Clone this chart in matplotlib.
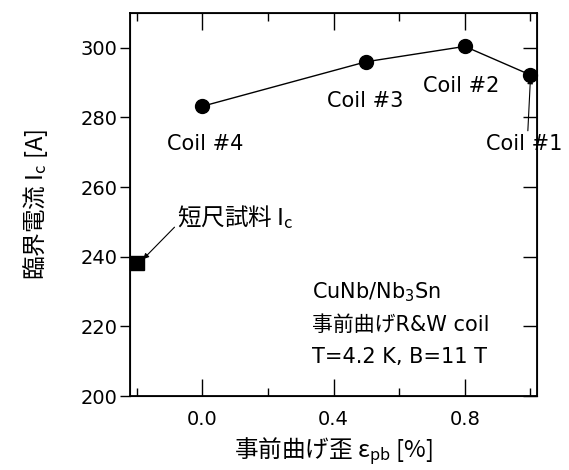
import matplotlib
matplotlib.use('Agg')
import matplotlib.pyplot as plt
from matplotlib.ticker import MultipleLocator

plt.rcParams['font.family'] = ['DejaVu Sans', 'Noto Sans CJK JP']
JP = 'Noto Sans CJK JP'

# coil data
coil_strain = [0.0, 0.5, 0.8, 1.0]
coil_ic = [283.2, 296.0, 300.4, 292.2]
coil_names = ['Coil #4', 'Coil #3', 'Coil #2', 'Coil #1']

# short sample
short_strain = [-0.2]
short_ic = [238.3]

fig = plt.figure(figsize=(5.69, 4.70), dpi=100)
ax = fig.add_axes([0.2285, 0.1574, 0.7153, 0.815])

ax.plot(coil_strain, coil_ic, '-o', color='black', lw=1, ms=10, clip_on=False, zorder=3)
ax.plot(short_strain, short_ic, 's', color='black', ms=10, clip_on=False, zorder=3)

ax.set_xlim(-0.22, 1.02)
ax.set_ylim(200, 310)
ax.set_xticks([0.0, 0.4, 0.8])
ax.set_xticklabels(['0.0', '0.4', '0.8'])
ax.xaxis.set_minor_locator(MultipleLocator(0.2))
ax.set_yticks(range(200, 301, 20))
ax.tick_params(axis='x', which='major', direction='in', length=12, width=1, top=True, labelsize=14, pad=10)
ax.tick_params(axis='x', which='minor', direction='in', length=6, width=1, top=True)
ax.tick_params(axis='y', which='major', direction='out', length=7, width=1, labelsize=14, pad=2)
for sp in ax.spines.values():
    sp.set_linewidth(1.3)

# right-side inward y ticks
ax2 = ax.twinx()
ax2.set_ylim(ax.get_ylim())
ax2.set_yticks(range(200, 301, 20))
ax2.tick_params(axis='y', direction='in', length=10, width=1, labelright=False)

ax.set_xlabel('事前曲げ歪 ε$\\mathregular{_{pb}}$ [%]', family=JP, fontsize=17, labelpad=5)
ax.set_ylabel('臨界電流 I$\\mathregular{_c}$ [A]', family=JP, fontsize=17, labelpad=22)

# coil labels
ax.text(0.01, 272.5, coil_names[0], fontsize=15, ha='center', va='center')
ax.text(0.496, 284.8, coil_names[1], fontsize=15, ha='center', va='center')
ax.text(0.79, 289.1, coil_names[2], fontsize=15, ha='center', va='center')
ax.annotate(coil_names[3], xy=(1.0, 291.3), xytext=(0.98, 272.5), fontsize=15,
            ha='center', va='center',
            arrowprops=dict(arrowstyle='-|>', color='black', lw=0.8, mutation_scale=8,
                            shrinkA=0, shrinkB=0, relpos=(0.55, 1.0)))
ax.annotate('短尺試料 I$\\mathregular{_c}$', xy=(-0.18, 239.3), xytext=(-0.076, 251.3),
            family=JP, fontsize=17, ha='left', va='center',
            arrowprops=dict(arrowstyle='-|>', color='black', lw=0.8, mutation_scale=8,
                            shrinkA=0, shrinkB=0, relpos=(0, 0.25)))

info_lines = ['CuNb/Nb$_3$Sn', '事前曲げR&W coil', 'T=4.2 K, B=11 T']
info_y = [229.8, 220.3, 211.2]
for line, yy in zip(info_lines, info_y):
    ax.text(0.335, yy, line, fontsize=15, ha='left', va='center')

fig.savefig('out.png', dpi=100)
